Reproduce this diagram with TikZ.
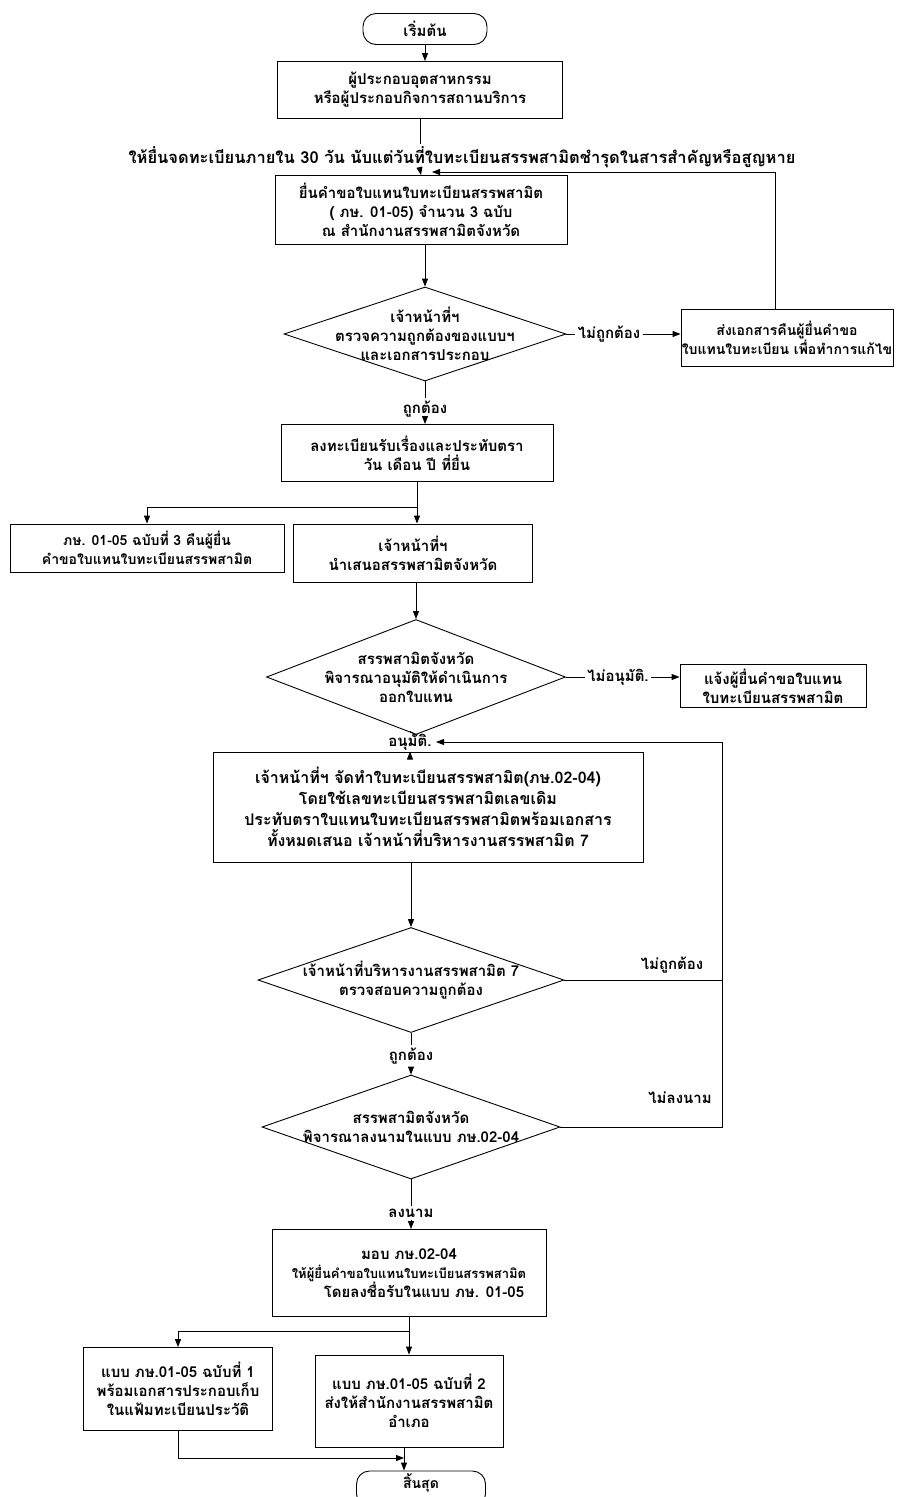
\documentclass[tikz,border=0pt]{standalone}
\usepackage{fontspec}
\newfontfamily\thai[Script=Thai]{Loma}
\usetikzlibrary{shapes.geometric,arrows.meta}
\begin{document}
\begin{tikzpicture}[x=1pt,y=-1pt,line width=0.9pt,
  every node/.style={font=\thai\bfseries\fontsize{15}{19}\selectfont},
  box/.style={draw,rectangle,align=center,inner sep=0pt},
  term/.style={draw,rectangle,rounded corners=13pt,align=center,inner sep=0pt},
  dia/.style={draw,diamond,inner sep=0pt},
  dtxt/.style={align=center,inner sep=0pt},
  lbl/.style={align=center,inner sep=2pt},
  arr/.style={-{Triangle[length=8pt,width=6pt]}},
]
\path[use as bounding box] (0,0) rectangle (902,1497);
\clip (0,0) rectangle (902,1497);

% nodes
\node[term,minimum width=124pt,minimum height=31pt] (start) at (425,29) {เริ่มต้น};
\node[box,minimum width=285pt,minimum height=57pt] (b1) at (420,90)
  {ผู้ประกอบอุตสาหกรรม\\หรือผู้ประกอบกิจการสถานบริการ};
\node[lbl,font=\thai\bfseries\fontsize{16.5}{19}\selectfont] (l0) at (462,157)
  {ให้ยื่นจดทะเบียนภายใน  30 วัน นับแต่วันที่ใบทะเบียนสรรพสามิตชำรุดในสารสำคัญหรือสูญหาย};
\node[box,minimum width=292pt,minimum height=69pt] (b2) at (421,210)
  {ยื่นคำขอใบแทนใบทะเบียนสรรพสามิต\\( ภษ. 01-05) จำนวน  3 ฉบับ\\ณ  สำนักงานสรรพสามิตจังหวัด};
\node[dia,minimum width=282pt,minimum height=94pt] (d1) at (425,334) {};
\node[dtxt] (d1t) at (425,334) {เจ้าหน้าที่ฯ\\ตรวจความถูกต้องของแบบฯ\\และเอกสารประกอบ};
\node[lbl] (n1) at (609,334) {ไม่ถูกต้อง};
\node[box,minimum width=212pt,minimum height=57pt,font=\thai\bfseries\fontsize{14}{19}\selectfont] (rb1) at (787,338)
  {ส่งเอกสารคืนผู้ยื่นคำขอ\\ใบแทนใบทะเบียน เพื่อทำการแก้ไข};
\coordinate (rt1) at (775,172);
\coordinate (fb1) at (432,172);
\node[lbl] (ok1) at (425,409) {ถูกต้อง};
\node[box,minimum width=272pt,minimum height=57pt] (b3) at (417,453)
  {ลงทะเบียนรับเรื่องและประทับตรา\\วัน เดือน ปี ที่ยื่น};
\coordinate (br1) at (417,507);
\node[box,minimum width=274pt,minimum height=48pt,font=\thai\bfseries\fontsize{14}{19}\selectfont] (lb) at (147,548)
  {ภษ. 01-05 ฉบับที่ 3 คืนผู้ยื่น\\คำขอใบแทนใบทะเบียนสรรพสามิต};
\node[box,minimum width=239pt,minimum height=58pt] (b4) at (413,553)
  {เจ้าหน้าที่ฯ\\นำเสนอสรรพสามิตจังหวัด};
\node[dia,minimum width=299pt,minimum height=115pt] (d2) at (416,677) {};
\node[dtxt] (d2t) at (416,677) {สรรพสามิตจังหวัด\\พิจารณาอนุมัติให้ดำเนินการ\\ออกใบแทน};
\node[lbl] (n2) at (618,677) {ไม่อนุมัติ.};
\node[box,minimum width=186pt,minimum height=43pt] (rb2) at (773,686)
  {แจ้งผู้ยื่นคำขอใบแทน\\ใบทะเบียนสรรพสามิต};
\node[lbl] (ok2) at (410,742) {อนุมัติ.};
\coordinate (fb2) at (436,742);
\node[box,minimum width=430pt,minimum height=110pt,font=\thai\bfseries\fontsize{16}{21}\selectfont] (b5) at (428,807)
  {เจ้าหน้าที่ฯ จัดทำใบทะเบียนสรรพสามิต(ภษ.02-04)\\โดยใช้เลขทะเบียนสรรพสามิตเลขเดิม\\ประทับตราใบแทนใบทะเบียนสรรพสามิตพร้อมเอกสาร\\ทั้งหมดเสนอ  เจ้าหน้าที่บริหารงานสรรพสามิต 7};
\node[dia,minimum width=306pt,minimum height=105pt] (d3) at (411,980) {};
\node[dtxt] (d3t) at (411,980) {เจ้าหน้าที่บริหารงานสรรพสามิต 7\\ตรวจสอบความถูกต้อง};
\node[lbl] (n3) at (672,965) {ไม่ถูกต้อง};
\node[lbl] (ok3) at (411,1056) {ถูกต้อง};
\node[dia,minimum width=298pt,minimum height=104pt] (d4) at (411,1127) {};
\node[dtxt] (d4t) at (411,1127) {สรรพสามิตจังหวัด\\พิจารณาลงนามในแบบ ภษ.02-04};
\node[lbl] (n4) at (680,1098) {ไม่ลงนาม};
\coordinate (rc) at (722,742);
\node[lbl] (ok4) at (411,1213) {ลงนาม};
\node[box,minimum width=274pt,minimum height=87pt] (b6) at (409,1273)
  {มอบ ภษ.02-04\\{\fontsize{13}{19}\selectfont ให้ผู้ยื่นคำขอใบแทนใบทะเบียนสรรพสามิต}\\\hspace*{2em}โดยลงชื่อรับในแบบ ภษ. 01-05};
\coordinate (br2) at (409,1331);
\node[box,minimum width=189pt,minimum height=83pt] (b7) at (178,1389)
  {แบบ ภษ.01-05  ฉบับที่ 1\\พร้อมเอกสารประกอบเก็บ\\ในแฟ้มทะเบียนประวัติ};
\node[box,minimum width=188pt,minimum height=92pt] (b8) at (409,1401)
  {แบบ ภษ.01-05 ฉบับที่ 2\\ส่งให้สำนักงานสรรพสามิต\\อำเภอ};
\node[term,minimum width=129pt,minimum height=36pt] (end) at (421,1489) {};
\node[dtxt,font=\thai\bfseries\fontsize{14}{17}\selectfont] (endt) at (421,1483) {สิ้นสุด};
\coordinate (mg) at (404,1458);

% connectors
\draw[arr] (start) -- (start.south |- b1.north);
\draw (b1.south) -- (b1.south |- l0.north);
\draw[arr] (b1.south |- l0.south) -- (b2.north);
\draw[arr] (rb1.north -| rt1) -- (rt1) -- (fb1);
\draw[arr] (b2.south -| d1.north) -- (d1.north);
\draw (d1.east) -- (n1.west);
\draw[arr] (n1.east) -- (n1.east -| rb1.west);
\draw (d1.south) -- (ok1.north);
\draw[arr] (ok1.south) -- (ok1.south |- b3.north);
\draw (b3.south -| br1) -- (br1);
\draw[arr] (br1) -| (lb.north);
\draw[arr] (br1) -- (br1 |- b4.north);
\draw[arr] (b4.south -| d2.north) -- (d2.north);
\draw (d2.east) -- (n2.west);
\draw[arr] (n2.east) -- (n2.east -| rb2.west);
\draw (d2.south) -- (ok2.north);
\draw[arr] (ok2.south) -- (ok2.south |- b5.north);
\draw[arr] (b5.south -| d3.north) -- (d3.north);
\draw (d3.east) -- (d3.east -| rc);
\draw (d4.east) -- (d4.east -| rc) -- (rc);
\draw[arr] (rc) -- (fb2);
\draw (d3.south) -- (ok3.north);
\draw[arr] (ok3.south) -- (d4.north);
\draw (d4.south) -- (ok4.north);
\draw[arr] (ok4.south) -- (ok4.south |- b6.north);
\draw (b6.south -| br2) -- (br2);
\draw[arr] (br2) -| (b7.north);
\draw[arr] (br2) -- (br2 |- b8.north);
\draw[arr] (b7.south) |- (mg);
\draw[arr] (b8.south -| mg) -- (mg |- end.north);
\end{tikzpicture}
\end{document}
